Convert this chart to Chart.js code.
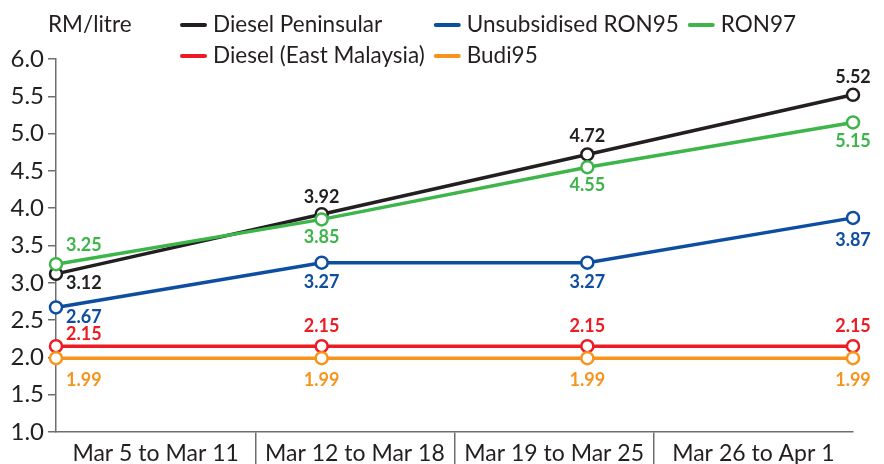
<!DOCTYPE html>
<html>
<head>
<meta charset="utf-8">
<script src="https://cdn.jsdelivr.net/npm/chart.js@4/dist/chart.umd.min.js"></script>
<style>
  html, body { margin: 0; padding: 0; background: #fff; }
  #wrap { width: 884px; height: 464px; position: relative; }
</style>
</head>
<body>
<div id="wrap"><canvas id="fuelChart"></canvas></div>
<script>
const weeks = ["Mar 5 to Mar 11", "Mar 12 to Mar 18", "Mar 19 to Mar 25", "Mar 26 to Apr 1"];
const dieselPeninsular = [3.12, 3.92, 4.72, 5.52];
const dieselEast = [2.15, 2.15, 2.15, 2.15];
const ron95 = [2.67, 3.27, 3.27, 3.87];
const ron97 = [3.25, 3.85, 4.55, 5.15];
const budi95 = [1.99, 1.99, 1.99, 1.99];
const yTicks = [1.0, 1.5, 2.0, 2.5, 3.0, 3.5, 4.0, 4.5, 5.0, 5.5, 6.0];

const ink = "#231f20";
const axisGrey = "#6d6e71";

// where each value label sits relative to its point: [dx, dy, align]
const placeDieselP = [[10, 9, "left"], [0, -17, "center"], [0, -18, "center"], [0, -18, "center"]];
const placeDieselE = [[10, -12, "left"], [0, -20, "center"], [0, -20, "center"], [0, -20, "center"]];
const placeRon95 = [[10, 10, "left"], [0, 20, "center"], [0, 20, "center"], [0, 22, "center"]];
const placeRon97 = [[10, -19, "left"], [0, 18, "center"], [0, 18, "center"], [0, 19, "center"]];
const placeBudi = [[10, 22, "left"], [0, 22, "center"], [0, 22, "center"], [0, 22, "center"]];

function series(label, values, color, place, legendCol, legendRow) {
  return {
    label: label,
    data: values.map(function (v, i) { return { x: i, y: v }; }),
    borderColor: color,
    backgroundColor: "#fff",
    borderWidth: 3.5,
    pointRadius: 6,
    pointBorderWidth: 2.5,
    pointBackgroundColor: "#fff",
    pointBorderColor: color,
    tension: 0,
    clip: false,
    xAxisID: "x",
    place: place,
    legendCol: legendCol,
    legendRow: legendRow,
  };
}

const datasets = [
  series("Budi95", budi95, "#f7941d", placeBudi, 1, 1),
  series("Diesel (East Malaysia)", dieselEast, "#ed1c24", placeDieselE, 0, 1),
  series("Unsubsidised RON95", ron95, "#0d4ea1", placeRon95, 1, 0),
  series("RON97", ron97, "#3db54a", placeRon97, 2, 0),
  series("Diesel Peninsular", dieselPeninsular, ink, placeDieselP, 0, 0),
];

const valueLabels = {
  id: "valueLabels",
  afterDatasetsDraw(chart) {
    const ctx = chart.ctx;
    ctx.save();
    ctx.font = "bold 18px Lato";
    ctx.textBaseline = "middle";
    chart.data.datasets.forEach(function (ds, di) {
      const meta = chart.getDatasetMeta(di);
      meta.data.forEach(function (pt, i) {
        const p = ds.place[i];
        ctx.fillStyle = ds.borderColor;
        ctx.textAlign = p[2];
        ctx.fillText(ds.data[i].y.toFixed(2), pt.x + p[0], pt.y + p[1]);
      });
    });
    ctx.restore();
  },
};

const topLegend = {
  id: "topLegend",
  afterDraw(chart) {
    const ctx = chart.ctx;
    ctx.save();
    ctx.font = "22.5px Lato";
    ctx.textBaseline = "middle";
    ctx.fillStyle = ink;
    ctx.textAlign = "left";
    ctx.fillText("RM/litre", 48, 25);

    const rows = [25, 56];
    const swatch = 25, swGap = 8, colGap = 9;
    const cols = [[], [], []];
    chart.data.datasets.forEach(function (ds) { cols[ds.legendCol].push(ds); });
    let x = 180;
    cols.forEach(function (col) {
      let widest = 0;
      col.forEach(function (ds) {
        const y = rows[ds.legendRow];
        ctx.strokeStyle = ds.borderColor;
        ctx.lineWidth = 4;
        ctx.lineCap = "round";
        ctx.beginPath();
        ctx.moveTo(x + 2, y);
        ctx.lineTo(x + swatch, y);
        ctx.stroke();
        ctx.fillStyle = ink;
        ctx.fillText(ds.label, x + swatch + swGap, y);
        widest = Math.max(widest, ctx.measureText(ds.label).width);
      });
      x += swatch + swGap + widest + colGap;
    });
    ctx.restore();
  },
};

new Chart(document.getElementById("fuelChart"), {
  type: "line",
  data: { datasets: datasets },
  options: {
    responsive: true,
    maintainAspectRatio: false,
    animation: false,
    layout: { padding: { top: 59, right: 31, left: 0, bottom: 0 } },
    plugins: { legend: { display: false }, tooltip: { enabled: false } },
    scales: {
      x: {
        type: "linear",
        min: 0,
        max: weeks.length - 1,
        display: false,
      },
      weeks: {
        type: "category",
        labels: weeks,
        position: "bottom",
        offset: true,
        afterFit: function (scale) { scale.height = 32; },
        grid: {
          offset: true,
          drawOnChartArea: false,
          tickLength: 32,
          lineWidth: 1.5,
          color: function (c) {
            return c.index >= 1 && c.index < weeks.length ? axisGrey : "rgba(0,0,0,0)";
          },
        },
        border: { display: true, color: axisGrey, width: 1.5 },
        ticks: { color: ink, font: { family: "Lato", size: 23 }, padding: -24, maxRotation: 0 },
      },
      y: {
        min: 1,
        max: 6,
        afterFit: function (scale) { scale.width = 56; },
        afterBuildTicks: function (scale) {
          scale.ticks = yTicks.map(function (v) { return { value: v }; });
        },
        grid: { drawOnChartArea: false, tickLength: 8, color: axisGrey, lineWidth: 1.5 },
        border: { display: true, color: axisGrey, width: 1.5 },
        ticks: {
          color: ink,
          padding: 4,
          font: { family: "Lato", size: 24 },
          callback: function (v) { return Number(v).toFixed(1); },
        },
      },
    },
  },
  plugins: [valueLabels, topLegend],
});
</script>
</body>
</html>
